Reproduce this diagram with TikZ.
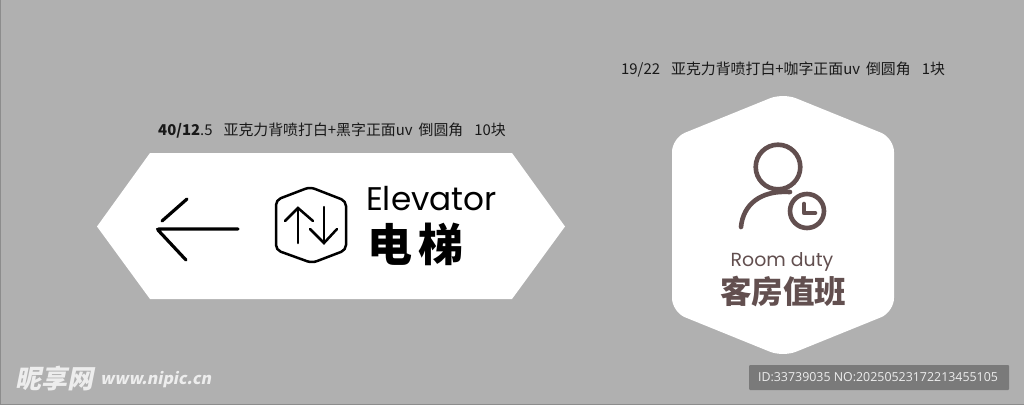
\documentclass[tikz,border=0pt]{standalone}
\usepackage{fontspec}
\usepackage{tikz}
\newfontfamily\cjk{Noto Sans CJK SC}
\newfontfamily\cjkslant[FakeSlant=0.2]{Noto Sans CJK SC}
\newfontfamily\latinsign{Poppins}
\newfontfamily\idfont{Open Sans}
\definecolor{backgrey}{HTML}{B0B0B0}
\definecolor{edgegrey}{HTML}{8C8C8C}
\definecolor{idgrey}{HTML}{7A7A7A}
\definecolor{duty}{HTML}{624F4F}
\definecolor{mark}{HTML}{EDEDED}

\begin{document}
\begin{tikzpicture}
  [%
 x=1pt,y=-1pt,
 caption/.style={
  inner sep=0pt,
  anchor=west,
  text=black!90,
 font=\cjk\fontsize{14.9}{14.9}\selectfont},
 signline/.style={
  line width=3.2pt,
  line cap=round,
  draw=black},
 iconline/.style={
  line width=2.5pt,
  line cap=round,
  draw=black},
 dutyline/.style={
  line width=4.6pt,
  line cap=round,
  line join=round,
  draw=duty},
 signtext/.style={
  inner sep=0pt,
  text=black},
 dutytext/.style={
  inner sep=0pt,
  text=duty},
 marktext/.style={
  inner sep=0pt,
  anchor=west,
  text=mark}]
\useasboundingbox (0,0) rectangle (1024,405);
\fill[backgrey] (0,0) rectangle (1024,405);
\draw[edgegrey,line width=1pt] (0.5,0) -- (0.5,404.5) -- (1024,404.5);
% left sign
\fill[white] (150,153) -- (512,153) -- (565,226.5) -- (512,299) -- (150,299) -- (97,226.5) -- cycle;
\draw[signline] (162,221) -- (187,199);
\draw[signline,rounded corners=2pt] (238,229) -- (157,229) -- (186,260);
\draw[iconline,rounded corners=5pt] (310,187) -- (346,201) -- (346,250) -- (312,263) -- (276,250) -- (276,200) -- cycle;
\draw[iconline] (298,243) -- (298,208);
\draw[iconline] (285,221) -- (298,208) -- (313,221);
\draw[iconline] (324,207) -- (324,243);
\draw[iconline] (310,229) -- (324,243) -- (337,229);
\node (elevator) [signtext,anchor=base west] at (366,210) {\latinsign\fontsize{32.7}{32.7}\selectfont Elevator};
\node (dianti) [signtext,anchor=west] at (367.5,244) {\cjk\bfseries\fontsize{45}{45}\selectfont 电\hspace{6pt}梯};
\node (leftcaption) [caption] at (158,131) {\textbf{40/12}.5\hspace{11pt}亚克力背喷打白+黑字正面uv\hspace{6pt}倒圆角\hspace{11pt}10块};
% right sign
\fill[white,rounded corners=14pt] (783,93) -- (894,138) -- (894,312) -- (783,357) -- (672,312) -- (672,138) -- cycle;
\draw[dutyline] (778,167) circle (22.3);
\draw[dutyline] (741,227) .. controls (743,205) and (760,190) .. (790,192);
\draw[dutyline,fill=white] (807,211) circle (17);
\draw[dutyline] (804,204) -- (804,213) -- (815,213);
\node (roomduty) [dutytext] at (782,262) {\latinsign\fontsize{18.9}{18.9}\selectfont Room duty};
\node (kefang) [dutytext] at (783,292) {\cjk\bfseries\fontsize{31.5}{31.5}\selectfont 客房值班};
\node (rightcaption) [caption] at (621,69.5) {19/22\hspace{11pt}亚克力背喷打白+咖字正面uv\hspace{6pt}倒圆角\hspace{11pt}1块};
% marks
\node (nipic) [marktext] at (15,379) {\cjkslant\bfseries\fontsize{26}{26}\selectfont 昵享网};
\node (nipicurl) [marktext] at (100,380) {\cjkslant\bfseries\fontsize{15.9}{15.9}\selectfont www.nipic.cn};
\fill[idgrey,rounded corners=1pt] (749,365) rectangle (1009,390);
\node (idno) [inner sep=0pt,text=mark] at (878,377.5) {\idfont\fontsize{12.4}{12.4}\selectfont ID:33739035 NO:20250523172213455105};
\end{tikzpicture}
\end{document}
